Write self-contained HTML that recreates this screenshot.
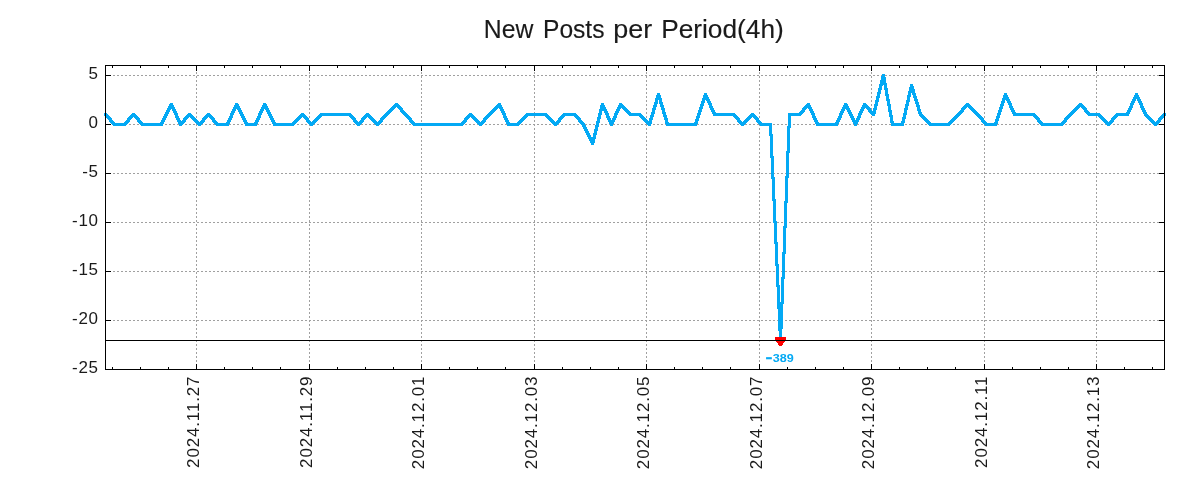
<!DOCTYPE html>
<html lang="en"><head><meta charset="utf-8"><title>New Posts per Period(4h)</title>
<style>html,body{margin:0;padding:0;background:#fff}body{width:1200px;height:500px;overflow:hidden}svg{display:block;will-change:transform}text{font-family:"Liberation Sans",sans-serif;fill:#1a1a1a}</style>
</head><body>
<svg width="1200" height="500" viewBox="0 0 1200 500">
<rect width="1200" height="500" fill="#fff"/>
<g shape-rendering="crispEdges" stroke="#a0a0a0" stroke-width="1" stroke-dasharray="2 2" fill="none">
<path d="M105 75.5H1165"/>
<path d="M105 124.5H1165"/>
<path d="M105 173.5H1165"/>
<path d="M105 222.5H1165"/>
<path d="M105 271.5H1165"/>
<path d="M105 320.5H1165"/>
<path d="M196.5 370V65"/>
<path d="M309.5 370V65"/>
<path d="M421.5 370V65"/>
<path d="M534.5 370V65"/>
<path d="M646.5 370V65"/>
<path d="M759.5 370V65"/>
<path d="M871.5 370V65"/>
<path d="M984.5 370V65"/>
<path d="M1096.5 370V65"/>
</g>
<path shape-rendering="crispEdges" fill="#03a9f4" d="M104 113h3v1h-3zM104 114h4v1h-4zM104 115h5v1h-5zM105 116h5v1h-5zM106 117h5v1h-5zM107 118h5v1h-5zM108 119h4v1h-4zM109 120h4v1h-4zM109 121h5v1h-5zM110 122h5v1h-5zM111 123h17v1h-17zM112 124h15v1h-15zM113 125h13v1h-13zM124 122h5v1h-5zM125 121h5v1h-5zM126 120h4v1h-4zM127 119h4v1h-4zM127 118h5v1h-5zM128 117h5v1h-5zM129 116h9v1h-9zM130 115h7v1h-7zM131 114h5v1h-5zM132 113h3v1h-3zM134 117h5v1h-5zM135 118h5v1h-5zM136 119h4v1h-4zM137 120h4v1h-4zM137 121h5v1h-5zM138 122h5v1h-5zM139 123h25v1h-25zM140 124h23v1h-23zM141 125h22v1h-22zM160 122h4v1h-4zM161 120h4v2h-4zM162 118h4v2h-4zM163 116h4v2h-4zM164 114h4v2h-4zM165 112h4v2h-4zM166 110h4v2h-4zM167 109h4v1h-4zM167 108h8v1h-8zM168 106h6v1h-6zM168 107h7v1h-7zM169 104h4v1h-4zM169 105h5v1h-5zM170 103h3v1h-3zM172 109h4v2h-4zM173 111h4v2h-4zM174 113h4v2h-4zM175 115h3v1h-3zM175 116h4v2h-4zM176 118h4v2h-4zM177 120h4v1h-4zM177 121h9v1h-9zM178 123h6v1h-6zM178 122h7v1h-7zM179 125h3v1h-3zM179 124h4v1h-4zM182 120h4v1h-4zM183 119h4v1h-4zM183 118h5v1h-5zM184 117h5v1h-5zM185 116h9v1h-9zM186 115h7v1h-7zM187 114h5v1h-5zM188 113h3v1h-3zM190 117h5v1h-5zM191 118h5v1h-5zM192 119h5v1h-5zM193 120h5v1h-5zM194 121h5v1h-5zM195 122h9v1h-9zM196 123h7v1h-7zM197 124h5v1h-5zM198 125h3v1h-3zM200 121h5v1h-5zM201 120h4v1h-4zM202 119h4v1h-4zM202 118h5v1h-5zM203 117h5v1h-5zM204 116h9v1h-9zM205 115h7v1h-7zM206 114h5v1h-5zM207 113h3v1h-3zM209 117h5v1h-5zM210 118h5v1h-5zM211 119h4v1h-4zM212 120h4v1h-4zM212 121h5v1h-5zM213 122h5v1h-5zM214 123h16v1h-16zM215 124h14v1h-14zM216 125h13v1h-13zM226 122h4v1h-4zM227 120h4v2h-4zM228 118h4v2h-4zM229 116h4v2h-4zM230 115h3v1h-3zM230 113h4v2h-4zM231 111h4v2h-4zM232 109h4v2h-4zM233 107h7v1h-7zM233 108h8v1h-8zM234 105h5v1h-5zM234 106h6v1h-6zM235 103h3v1h-3zM235 104h4v1h-4zM237 109h4v1h-4zM238 110h4v2h-4zM239 112h4v2h-4zM240 114h4v2h-4zM241 116h4v2h-4zM242 118h4v2h-4zM243 120h4v2h-4zM244 122h4v1h-4zM244 123h14v1h-14zM245 124h12v2h-12zM254 122h4v1h-4zM255 120h4v2h-4zM256 118h4v2h-4zM257 116h4v2h-4zM258 115h3v1h-3zM258 113h4v2h-4zM259 111h4v2h-4zM260 109h4v2h-4zM261 107h7v1h-7zM261 108h8v1h-8zM262 105h5v1h-5zM262 106h6v1h-6zM263 103h3v1h-3zM263 104h4v1h-4zM265 109h4v1h-4zM266 110h4v2h-4zM267 112h4v2h-4zM268 114h4v2h-4zM269 116h4v2h-4zM270 118h4v2h-4zM271 120h4v2h-4zM272 122h4v1h-4zM272 123h24v1h-24zM273 125h21v1h-21zM273 124h22v1h-22zM292 122h5v1h-5zM293 121h5v1h-5zM294 120h5v1h-5zM295 119h5v1h-5zM296 118h5v1h-5zM297 117h5v1h-5zM298 116h9v1h-9zM299 115h7v1h-7zM300 114h5v1h-5zM301 113h3v1h-3zM303 117h5v1h-5zM304 118h5v1h-5zM305 119h4v1h-4zM306 120h4v1h-4zM306 121h5v1h-5zM307 122h9v1h-9zM308 123h7v1h-7zM309 124h5v1h-5zM310 125h3v1h-3zM312 121h5v1h-5zM313 120h5v1h-5zM314 119h5v1h-5zM315 118h5v1h-5zM316 117h5v1h-5zM317 116h5v1h-5zM318 115h35v1h-35zM319 114h33v1h-33zM320 113h31v1h-31zM349 116h5v1h-5zM350 117h5v1h-5zM351 118h5v1h-5zM352 119h4v1h-4zM353 120h4v1h-4zM353 121h5v1h-5zM354 122h9v1h-9zM355 123h7v1h-7zM356 124h5v1h-5zM357 125h3v1h-3zM359 121h5v1h-5zM360 120h4v1h-4zM361 119h4v1h-4zM361 118h5v1h-5zM362 117h5v1h-5zM363 116h9v1h-9zM364 115h7v1h-7zM365 114h5v1h-5zM366 113h3v1h-3zM368 117h5v1h-5zM369 118h5v1h-5zM370 119h5v1h-5zM371 120h5v1h-5zM372 121h5v1h-5zM373 122h9v1h-9zM374 123h7v1h-7zM375 124h5v1h-5zM376 125h3v1h-3zM378 121h5v1h-5zM379 120h4v1h-4zM380 119h4v1h-4zM380 118h5v1h-5zM381 117h5v1h-5zM382 116h5v1h-5zM383 115h5v1h-5zM384 114h5v1h-5zM385 113h5v1h-5zM386 112h5v1h-5zM387 111h5v1h-5zM388 110h5v1h-5zM389 109h5v1h-5zM390 108h5v1h-5zM391 107h5v1h-5zM392 106h9v1h-9zM393 105h7v1h-7zM394 104h5v1h-5zM395 103h3v1h-3zM397 107h5v1h-5zM398 108h5v1h-5zM399 109h4v1h-4zM400 110h4v1h-4zM400 111h5v1h-5zM401 112h5v1h-5zM402 113h5v1h-5zM403 114h5v1h-5zM404 115h5v1h-5zM405 116h5v1h-5zM406 117h5v1h-5zM407 118h5v1h-5zM408 119h4v1h-4zM409 120h4v1h-4zM409 121h5v1h-5zM410 122h5v1h-5zM411 123h54v1h-54zM412 124h52v1h-52zM413 125h50v1h-50zM461 122h5v1h-5zM462 121h5v1h-5zM463 120h4v1h-4zM464 119h4v1h-4zM464 118h5v1h-5zM465 117h5v1h-5zM466 116h9v1h-9zM467 115h7v1h-7zM468 114h5v1h-5zM469 113h3v1h-3zM471 117h5v1h-5zM472 118h5v1h-5zM473 119h5v1h-5zM474 120h5v1h-5zM475 121h5v1h-5zM476 122h9v1h-9zM477 123h7v1h-7zM478 124h5v1h-5zM479 125h3v1h-3zM481 121h5v1h-5zM482 120h4v1h-4zM483 119h4v1h-4zM483 118h5v1h-5zM484 117h5v1h-5zM485 116h5v1h-5zM486 115h5v1h-5zM487 114h5v1h-5zM488 113h5v1h-5zM489 112h5v1h-5zM490 111h5v1h-5zM491 110h5v1h-5zM492 109h5v1h-5zM493 108h5v1h-5zM494 107h9v1h-9zM495 106h7v1h-7zM496 105h6v1h-6zM497 104h4v1h-4zM498 103h3v1h-3zM499 108h4v1h-4zM500 109h4v2h-4zM501 111h4v2h-4zM502 113h4v2h-4zM503 115h3v1h-3zM503 116h4v2h-4zM504 118h4v2h-4zM505 120h4v2h-4zM506 122h4v1h-4zM506 123h15v1h-15zM507 125h12v1h-12zM507 124h13v1h-13zM517 122h5v1h-5zM518 121h5v1h-5zM519 120h5v1h-5zM520 119h5v1h-5zM521 118h5v1h-5zM522 117h5v1h-5zM523 116h5v1h-5zM524 115h25v1h-25zM525 114h23v1h-23zM526 113h21v1h-21zM545 116h5v1h-5zM546 117h5v1h-5zM547 118h5v1h-5zM548 119h5v1h-5zM549 120h5v1h-5zM550 121h5v1h-5zM551 122h9v1h-9zM552 123h7v1h-7zM553 124h5v1h-5zM554 125h3v1h-3zM556 121h5v1h-5zM557 120h4v1h-4zM558 119h4v1h-4zM558 118h5v1h-5zM559 117h5v1h-5zM560 116h5v1h-5zM561 115h17v1h-17zM562 114h15v1h-15zM563 113h13v1h-13zM574 116h5v1h-5zM575 117h5v1h-5zM576 118h5v1h-5zM577 119h4v1h-4zM578 120h4v1h-4zM578 121h5v1h-5zM579 122h5v1h-5zM580 123h5v1h-5zM581 124h4v1h-4zM582 125h4v2h-4zM583 127h4v2h-4zM584 129h4v2h-4zM585 131h4v2h-4zM586 133h4v2h-4zM587 135h4v2h-4zM588 137h8v2h-8zM589 139h6v2h-6zM590 141h5v2h-5zM591 143h3v2h-3zM593 135h3v2h-3zM593 133h4v2h-4zM594 131h3v2h-3zM594 129h4v2h-4zM595 127h3v2h-3zM595 125h4v2h-4zM596 123h3v2h-3zM596 121h4v2h-4zM597 119h3v2h-3zM597 117h4v2h-4zM598 115h3v2h-3zM598 113h4v2h-4zM599 111h3v2h-3zM599 109h8v2h-8zM600 105h5v2h-5zM600 107h6v2h-6zM601 103h3v2h-3zM604 111h4v2h-4zM605 113h4v2h-4zM606 115h3v1h-3zM606 116h4v2h-4zM607 118h4v2h-4zM608 120h7v2h-7zM609 122h5v2h-5zM610 124h3v2h-3zM612 118h4v2h-4zM613 116h4v2h-4zM614 115h3v1h-3zM614 113h4v2h-4zM615 111h4v2h-4zM616 109h4v2h-4zM617 108h4v1h-4zM617 107h9v1h-9zM618 105h6v1h-6zM618 106h7v1h-7zM619 103h3v1h-3zM619 104h4v1h-4zM622 108h5v1h-5zM623 109h5v1h-5zM624 110h5v1h-5zM625 111h5v1h-5zM626 112h5v1h-5zM627 113h14v1h-14zM628 114h14v1h-14zM629 115h14v1h-14zM639 116h5v1h-5zM640 117h5v1h-5zM641 118h5v1h-5zM642 119h5v1h-5zM643 120h5v1h-5zM644 121h8v1h-8zM645 122h7v1h-7zM646 123h6v1h-6zM647 124h4v1h-4zM648 125h3v1h-3zM649 120h3v1h-3zM649 118h4v2h-4zM650 117h3v1h-3zM650 115h4v2h-4zM651 114h3v1h-3zM651 112h4v2h-4zM652 110h3v2h-3zM652 108h4v2h-4zM653 107h3v1h-3zM653 105h4v2h-4zM654 104h3v1h-3zM654 102h4v2h-4zM655 100h3v2h-3zM655 98h7v2h-7zM656 95h5v3h-5zM657 93h3v2h-3zM659 100h3v2h-3zM659 102h4v2h-4zM660 104h3v1h-3zM660 105h4v2h-4zM661 107h3v1h-3zM661 108h4v2h-4zM662 110h3v2h-3zM662 112h4v2h-4zM663 114h3v1h-3zM663 115h4v2h-4zM664 117h3v1h-3zM664 118h4v2h-4zM665 120h3v2h-3zM665 122h4v1h-4zM665 123h33v1h-33zM666 124h31v2h-31zM694 122h4v1h-4zM695 121h3v1h-3zM695 119h4v2h-4zM696 118h3v1h-3zM696 116h4v2h-4zM697 115h3v1h-3zM697 113h4v2h-4zM698 112h3v1h-3zM698 110h4v2h-4zM699 109h3v1h-3zM699 107h4v2h-4zM700 106h3v1h-3zM700 104h4v2h-4zM701 103h3v1h-3zM701 101h4v2h-4zM702 100h3v1h-3zM702 98h7v1h-7zM702 99h8v1h-8zM703 95h5v2h-5zM703 97h6v1h-6zM704 93h3v2h-3zM706 100h4v1h-4zM707 101h4v2h-4zM708 103h4v2h-4zM709 105h3v1h-3zM709 106h4v2h-4zM710 108h4v2h-4zM711 110h4v2h-4zM712 112h4v1h-4zM712 113h23v1h-23zM713 114h23v1h-23zM713 115h24v1h-24zM733 116h5v1h-5zM734 117h5v1h-5zM735 118h5v1h-5zM736 119h4v1h-4zM737 120h4v1h-4zM737 121h5v1h-5zM738 122h9v1h-9zM739 123h7v1h-7zM740 124h5v1h-5zM741 125h3v1h-3zM743 121h5v1h-5zM744 120h5v1h-5zM745 119h5v1h-5zM746 118h5v1h-5zM747 117h5v1h-5zM748 116h9v1h-9zM749 115h7v1h-7zM750 114h5v1h-5zM751 113h3v1h-3zM753 117h5v1h-5zM754 118h5v1h-5zM755 119h4v1h-4zM756 120h4v1h-4zM756 121h5v1h-5zM757 122h5v1h-5zM758 123h14v1h-14zM759 124h13v1h-13zM760 125h12v1h-12zM769 126h3v8h-3zM769 134h4v2h-4zM770 136h3v20h-3zM770 156h4v2h-4zM771 158h3v19h-3zM771 177h4v2h-4zM772 179h3v20h-3zM772 199h4v2h-4zM773 201h3v20h-3zM773 221h4v2h-4zM774 223h3v19h-3zM774 242h4v2h-4zM775 244h3v20h-3zM775 264h4v2h-4zM776 266h3v19h-3zM776 285h4v2h-4zM777 287h3v15h-3zM777 304h6v5h-6zM777 302h7v2h-7zM778 329h4v2h-4zM778 309h5v20h-5zM779 331h3v11h-3zM781 279h3v23h-3zM781 277h4v2h-4zM782 254h3v23h-3zM782 252h4v2h-4zM783 228h3v24h-3zM783 226h4v2h-4zM784 203h3v23h-3zM784 201h4v2h-4zM785 178h3v23h-3zM785 176h4v2h-4zM786 153h3v23h-3zM786 151h4v2h-4zM787 128h3v23h-3zM787 126h4v2h-4zM788 116h3v10h-3zM788 115h13v1h-13zM788 114h14v1h-14zM788 113h15v1h-15zM799 112h5v1h-5zM800 111h5v1h-5zM801 110h4v1h-4zM802 109h4v1h-4zM802 108h5v1h-5zM803 107h9v1h-9zM804 106h7v1h-7zM805 105h6v1h-6zM806 104h4v1h-4zM807 103h3v1h-3zM808 108h4v1h-4zM809 109h4v2h-4zM810 111h4v2h-4zM811 113h4v2h-4zM812 115h3v1h-3zM812 116h4v2h-4zM813 118h4v2h-4zM814 120h4v2h-4zM815 122h4v1h-4zM815 123h24v1h-24zM816 124h22v2h-22zM835 122h4v1h-4zM836 120h4v2h-4zM837 118h4v2h-4zM838 116h4v2h-4zM839 115h3v1h-3zM839 113h4v2h-4zM840 111h4v2h-4zM841 109h4v2h-4zM842 107h7v1h-7zM842 108h8v1h-8zM843 105h5v1h-5zM843 106h6v1h-6zM844 103h3v1h-3zM844 104h4v1h-4zM846 109h4v1h-4zM847 110h4v2h-4zM848 112h4v2h-4zM849 114h4v2h-4zM850 116h4v2h-4zM851 118h4v2h-4zM852 120h7v2h-7zM853 122h5v2h-5zM854 124h3v2h-3zM856 118h4v2h-4zM857 116h4v2h-4zM858 115h3v1h-3zM858 113h4v2h-4zM859 111h4v2h-4zM860 109h4v2h-4zM861 108h4v1h-4zM861 107h9v1h-9zM862 105h6v1h-6zM862 106h7v1h-7zM863 103h3v1h-3zM863 104h4v1h-4zM866 108h5v1h-5zM867 109h4v1h-4zM868 110h4v1h-4zM868 111h8v1h-8zM869 112h7v1h-7zM870 113h6v1h-6zM871 114h4v1h-4zM872 115h3v1h-3zM873 110h3v1h-3zM873 108h4v2h-4zM874 106h3v2h-3zM874 104h4v2h-4zM875 102h3v2h-3zM875 100h4v2h-4zM876 98h3v2h-3zM876 96h4v2h-4zM877 94h3v2h-3zM877 92h4v2h-4zM878 90h3v2h-3zM878 88h4v2h-4zM879 86h3v2h-3zM879 85h4v1h-4zM879 84h8v1h-8zM880 80h6v3h-6zM880 83h7v1h-7zM881 76h4v1h-4zM881 77h5v3h-5zM882 74h3v2h-3zM884 85h3v3h-3zM884 88h4v2h-4zM885 90h3v4h-3zM885 94h4v2h-4zM886 96h3v3h-3zM886 99h4v2h-4zM887 101h3v3h-3zM887 104h4v2h-4zM888 106h3v4h-3zM888 110h4v2h-4zM889 112h3v3h-3zM889 115h4v2h-4zM890 117h3v4h-3zM890 121h4v2h-4zM891 123h13v3h-13zM901 121h4v2h-4zM902 119h3v2h-3zM902 117h4v2h-4zM903 115h3v2h-3zM903 113h4v2h-4zM904 110h3v3h-3zM904 108h4v2h-4zM905 106h3v2h-3zM905 104h4v2h-4zM906 102h3v2h-3zM906 100h4v2h-4zM907 97h3v3h-3zM907 95h4v2h-4zM908 93h3v2h-3zM908 91h7v2h-7zM909 87h5v2h-5zM909 89h6v2h-6zM910 84h3v2h-3zM910 86h4v1h-4zM912 93h4v2h-4zM913 95h3v1h-3zM913 96h4v2h-4zM914 98h3v1h-3zM914 99h4v2h-4zM915 101h3v1h-3zM915 102h4v2h-4zM916 104h3v1h-3zM916 105h4v2h-4zM917 107h3v2h-3zM917 109h4v2h-4zM918 111h3v1h-3zM918 112h4v2h-4zM919 114h4v1h-4zM919 115h5v1h-5zM920 116h5v1h-5zM921 117h5v1h-5zM922 118h5v1h-5zM923 119h5v1h-5zM924 120h5v1h-5zM925 121h5v1h-5zM926 122h5v1h-5zM927 123h25v1h-25zM928 124h23v1h-23zM929 125h21v1h-21zM948 122h5v1h-5zM949 121h5v1h-5zM950 120h5v1h-5zM951 119h5v1h-5zM952 118h5v1h-5zM953 117h5v1h-5zM954 116h5v1h-5zM955 115h5v1h-5zM956 114h5v1h-5zM957 113h5v1h-5zM958 112h5v1h-5zM959 111h5v1h-5zM960 110h4v1h-4zM961 109h4v1h-4zM961 108h5v1h-5zM962 107h5v1h-5zM963 106h9v1h-9zM964 105h7v1h-7zM965 104h5v1h-5zM966 103h3v1h-3zM968 107h5v1h-5zM969 108h5v1h-5zM970 109h5v1h-5zM971 110h5v1h-5zM972 111h5v1h-5zM973 112h5v1h-5zM974 113h5v1h-5zM975 114h5v1h-5zM976 115h5v1h-5zM977 116h5v1h-5zM978 117h5v1h-5zM979 118h5v1h-5zM980 119h4v1h-4zM981 120h4v1h-4zM981 121h5v1h-5zM982 122h5v1h-5zM983 123h15v1h-15zM984 124h13v1h-13zM985 125h12v1h-12zM994 122h4v1h-4zM995 121h3v1h-3zM995 119h4v2h-4zM996 118h3v1h-3zM996 116h4v2h-4zM997 115h3v1h-3zM997 113h4v2h-4zM998 112h3v1h-3zM998 110h4v2h-4zM999 109h3v1h-3zM999 107h4v2h-4zM1000 106h3v1h-3zM1000 104h4v2h-4zM1001 103h3v1h-3zM1001 101h4v2h-4zM1002 100h3v1h-3zM1002 98h7v1h-7zM1002 99h8v1h-8zM1003 95h5v2h-5zM1003 97h6v1h-6zM1004 93h3v2h-3zM1006 100h4v1h-4zM1007 101h4v2h-4zM1008 103h4v2h-4zM1009 105h3v1h-3zM1009 106h4v2h-4zM1010 108h4v2h-4zM1011 110h4v2h-4zM1012 112h4v1h-4zM1012 113h23v1h-23zM1013 114h23v1h-23zM1013 115h24v1h-24zM1033 116h5v1h-5zM1034 117h5v1h-5zM1035 118h5v1h-5zM1036 119h4v1h-4zM1037 120h4v1h-4zM1037 121h5v1h-5zM1038 122h5v1h-5zM1039 123h26v1h-26zM1040 124h24v1h-24zM1041 125h22v1h-22zM1061 122h5v1h-5zM1062 121h5v1h-5zM1063 120h4v1h-4zM1064 119h4v1h-4zM1064 118h5v1h-5zM1065 117h5v1h-5zM1066 116h5v1h-5zM1067 115h5v1h-5zM1068 114h5v1h-5zM1069 113h5v1h-5zM1070 112h5v1h-5zM1071 111h5v1h-5zM1072 110h5v1h-5zM1073 109h5v1h-5zM1074 108h5v1h-5zM1075 107h5v1h-5zM1076 106h9v1h-9zM1077 105h7v1h-7zM1078 104h5v1h-5zM1079 103h3v1h-3zM1081 107h5v1h-5zM1082 108h5v1h-5zM1083 109h4v1h-4zM1084 110h4v1h-4zM1084 111h5v1h-5zM1085 112h5v1h-5zM1086 113h14v1h-14zM1087 114h14v1h-14zM1088 115h14v1h-14zM1098 116h5v1h-5zM1099 117h5v1h-5zM1100 118h5v1h-5zM1101 119h5v1h-5zM1102 120h5v1h-5zM1103 121h5v1h-5zM1104 122h9v1h-9zM1105 123h7v1h-7zM1106 124h5v1h-5zM1107 125h3v1h-3zM1109 121h5v1h-5zM1110 120h4v1h-4zM1111 119h4v1h-4zM1111 118h5v1h-5zM1112 117h5v1h-5zM1113 116h5v1h-5zM1114 115h15v1h-15zM1115 114h14v1h-14zM1116 113h14v1h-14zM1126 112h4v1h-4zM1127 110h4v2h-4zM1128 108h4v2h-4zM1129 106h4v2h-4zM1130 105h3v1h-3zM1130 103h4v2h-4zM1131 101h4v2h-4zM1132 99h4v2h-4zM1133 97h7v2h-7zM1134 95h5v2h-5zM1135 93h3v2h-3zM1137 99h4v2h-4zM1138 101h4v2h-4zM1139 103h4v2h-4zM1140 105h3v1h-3zM1140 106h4v2h-4zM1141 108h4v2h-4zM1142 110h4v2h-4zM1143 112h4v2h-4zM1144 114h4v1h-4zM1144 115h5v1h-5zM1145 116h5v1h-5zM1146 117h5v1h-5zM1147 118h5v1h-5zM1148 119h5v1h-5zM1149 120h5v1h-5zM1150 121h5v1h-5zM1151 122h9v1h-9zM1152 123h7v1h-7zM1153 124h5v1h-5zM1154 125h3v1h-3zM1156 121h5v1h-5zM1157 120h4v1h-4zM1158 119h4v1h-4zM1158 118h5v1h-5zM1159 117h5v1h-5zM1160 116h5v1h-5zM1161 115h5v1h-5zM1162 114h4v1h-4zM1163 113h3v1h-3z"/>
<path shape-rendering="crispEdges" fill="#ff0000" d="M775 337h11v4h-11zM776 341h9v1h-9zM777 342h7v1h-7zM778 343h5v2h-5zM779 345h3v1h-3z"/>
<g shape-rendering="crispEdges" fill="#000">
<rect x="105" y="340" width="1060" height="1"/>
<rect x="105" y="65" width="1060" height="1"/>
<rect x="105" y="369" width="1060" height="1"/>
<rect x="105" y="65" width="1" height="305"/>
<rect x="1164" y="65" width="1" height="305"/>
<path d="M196 65h1v6h-1zM196 364h1v6h-1zM309 65h1v6h-1zM309 364h1v6h-1zM421 65h1v6h-1zM421 364h1v6h-1zM534 65h1v6h-1zM534 364h1v6h-1zM646 65h1v6h-1zM646 364h1v6h-1zM759 65h1v6h-1zM759 364h1v6h-1zM871 65h1v6h-1zM871 364h1v6h-1zM984 65h1v6h-1zM984 364h1v6h-1zM1096 65h1v6h-1zM1096 364h1v6h-1zM112 65h1v3h-1zM112 367h1v3h-1zM140 65h1v3h-1zM140 367h1v3h-1zM168 65h1v3h-1zM168 367h1v3h-1zM224 65h1v3h-1zM224 367h1v3h-1zM252 65h1v3h-1zM252 367h1v3h-1zM280 65h1v3h-1zM280 367h1v3h-1zM337 65h1v3h-1zM337 367h1v3h-1zM365 65h1v3h-1zM365 367h1v3h-1zM393 65h1v3h-1zM393 367h1v3h-1zM449 65h1v3h-1zM449 367h1v3h-1zM477 65h1v3h-1zM477 367h1v3h-1zM505 65h1v3h-1zM505 367h1v3h-1zM562 65h1v3h-1zM562 367h1v3h-1zM590 65h1v3h-1zM590 367h1v3h-1zM618 65h1v3h-1zM618 367h1v3h-1zM674 65h1v3h-1zM674 367h1v3h-1zM702 65h1v3h-1zM702 367h1v3h-1zM730 65h1v3h-1zM730 367h1v3h-1zM787 65h1v3h-1zM787 367h1v3h-1zM815 65h1v3h-1zM815 367h1v3h-1zM843 65h1v3h-1zM843 367h1v3h-1zM899 65h1v3h-1zM899 367h1v3h-1zM927 65h1v3h-1zM927 367h1v3h-1zM955 65h1v3h-1zM955 367h1v3h-1zM1012 65h1v3h-1zM1012 367h1v3h-1zM1040 65h1v3h-1zM1040 367h1v3h-1zM1068 65h1v3h-1zM1068 367h1v3h-1zM1124 65h1v3h-1zM1124 367h1v3h-1zM1152 65h1v3h-1zM1152 367h1v3h-1zM105 75h6v1h-6zM1159 75h6v1h-6zM105 124h6v1h-6zM1159 124h6v1h-6zM105 173h6v1h-6zM1159 173h6v1h-6zM105 222h6v1h-6zM1159 222h6v1h-6zM105 271h6v1h-6zM1159 271h6v1h-6zM105 320h6v1h-6zM1159 320h6v1h-6z"/>
</g>
<g font-size="17.0px" text-anchor="end" letter-spacing="0.68">
<text transform="translate(98.68 79)">5</text>
<text transform="translate(98.68 128)">0</text>
<text transform="translate(98.68 177)">-5</text>
<text transform="translate(98.68 226)">-10</text>
<text transform="translate(98.68 275)">-15</text>
<text transform="translate(98.68 324)">-20</text>
<text transform="translate(98.68 373)">-25</text>
</g>
<g font-size="17.0px" text-anchor="end" letter-spacing="0.84">
<text transform="translate(199 375.66) rotate(-90)">2024.11.27</text>
<text transform="translate(312 375.66) rotate(-90)">2024.11.29</text>
<text transform="translate(424 375.66) rotate(-90)">2024.12.01</text>
<text transform="translate(537 375.66) rotate(-90)">2024.12.03</text>
<text transform="translate(649 375.66) rotate(-90)">2024.12.05</text>
<text transform="translate(762 375.66) rotate(-90)">2024.12.07</text>
<text transform="translate(874 375.66) rotate(-90)">2024.12.09</text>
<text transform="translate(987 375.66) rotate(-90)">2024.12.11</text>
<text transform="translate(1099 375.66) rotate(-90)">2024.12.13</text>
</g>
<text font-size="25.4px" y="38" stroke="#1a1a1a" stroke-width="0.15" style="white-space:pre"><tspan x="483.87" textLength="56.42" lengthAdjust="spacingAndGlyphs">New </tspan><tspan x="542.98" textLength="68.39" lengthAdjust="spacingAndGlyphs">Posts </tspan><tspan x="613.22" textLength="46.39" lengthAdjust="spacingAndGlyphs">per </tspan><tspan x="661.15" textLength="122.62" lengthAdjust="spacingAndGlyphs">Period(4h)</tspan></text>
<text transform="translate(793.67 362) scale(1.114 1)" font-size="11.3px" font-weight="bold" text-anchor="end" style="fill:#03a9f4"><tspan textLength="5.36" lengthAdjust="spacingAndGlyphs" stroke="#03a9f4" stroke-width="0.7">−</tspan><tspan dx="0.7">389</tspan></text>
</svg>
</body></html>
